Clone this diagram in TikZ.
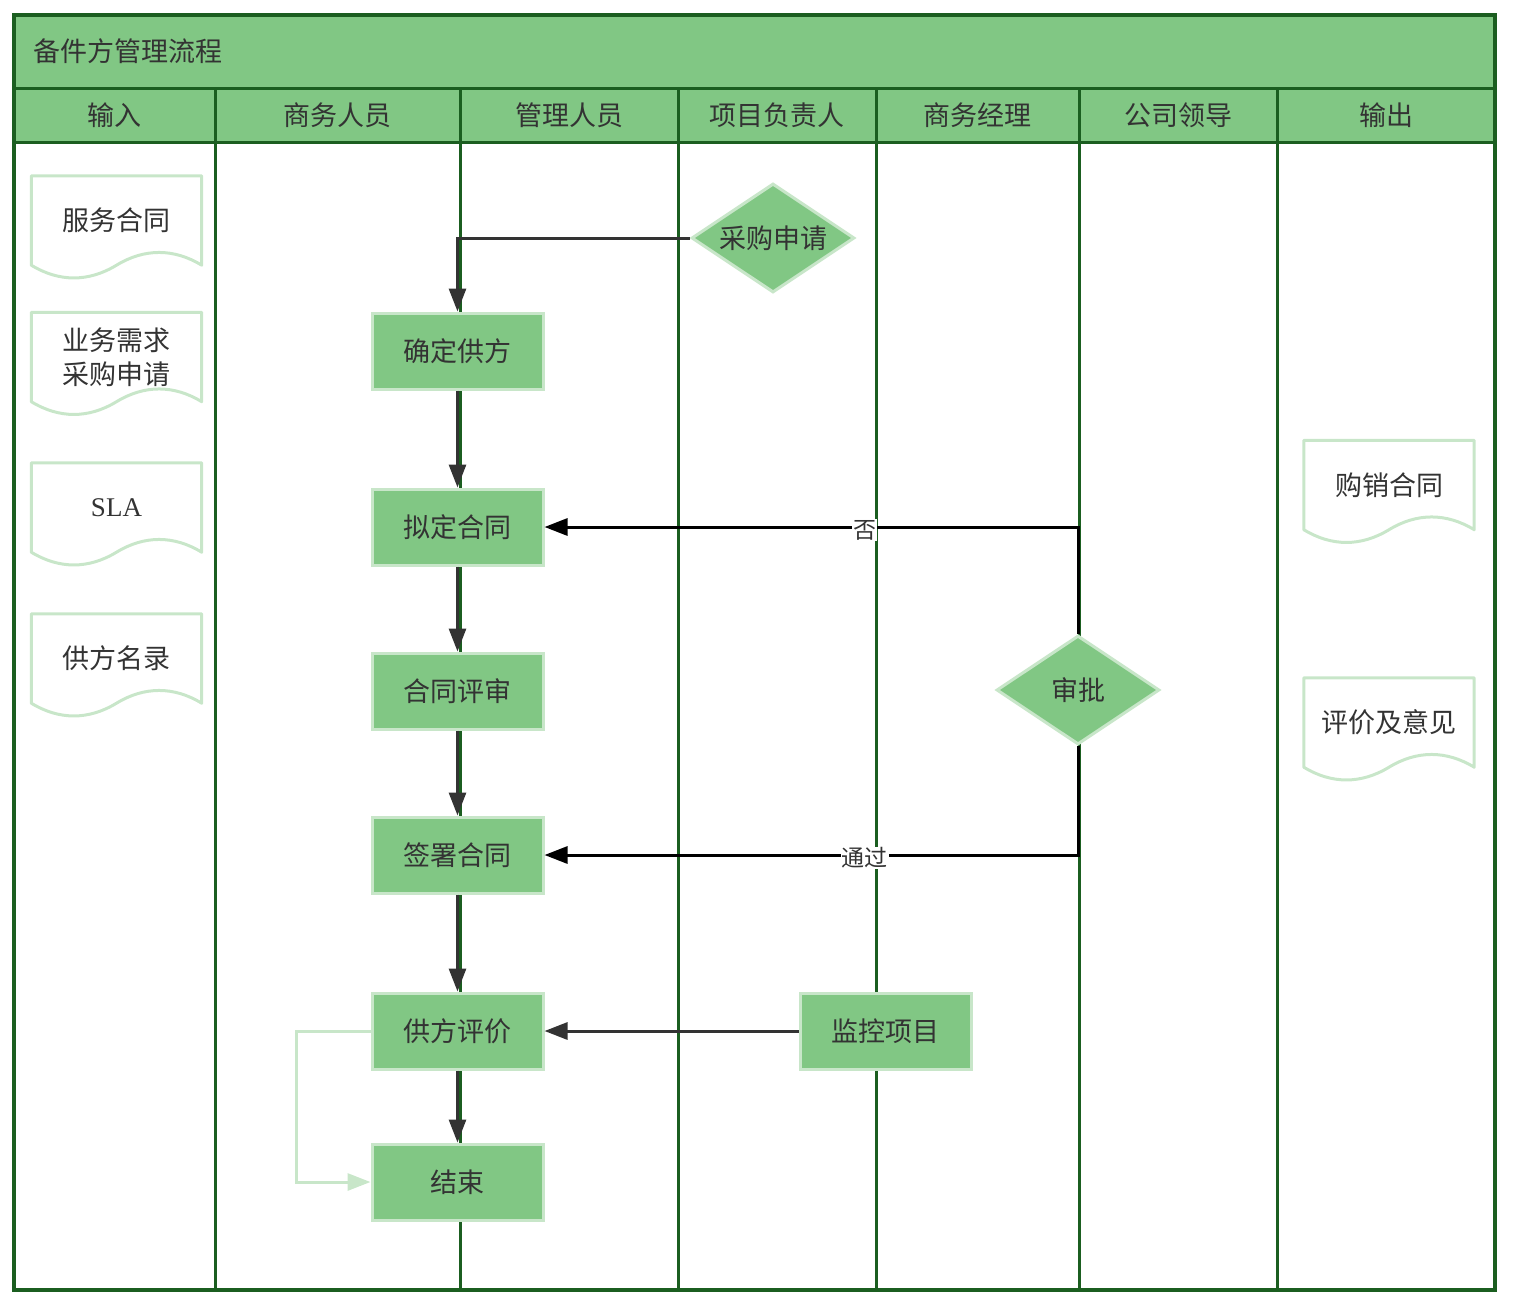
\documentclass[tikz,border=0pt]{standalone}
\usepackage{fontspec}
\setmainfont{Noto Sans CJK SC}
\newfontfamily\slafont{Liberation Serif}
\usepackage{tikz}
\usetikzlibrary{shapes.geometric, arrows.meta}
\definecolor{lanegreen}{HTML}{1B5E20}
\definecolor{headgreen}{HTML}{81C784}
\definecolor{palegreen}{HTML}{C8E6C9}
\definecolor{inkgray}{HTML}{333333}

\begin{document}
\begin{tikzpicture}[x=1pt, y=-1pt,
		lane/.style={draw=lanegreen, line width=3pt},
		head/.style={text=inkgray, font=\fontsize{27}{32}\selectfont},
		proc/.style={rectangle, fill=headgreen, draw=palegreen, line width=3pt, minimum width=171pt, minimum height=76pt, text=inkgray, font=\fontsize{27}{32}\selectfont},
		decide/.style={diamond, aspect=1.5, fill=headgreen, draw=palegreen, line width=3pt, minimum width=163pt, minimum height=109pt, inner sep=-10pt, text=inkgray, font=\fontsize{27}{32}\selectfont},
		docu/.style={rectangle, minimum width=170pt, minimum height=89pt, inner sep=0pt, align=center, text=inkgray, font=\fontsize{27}{34}\selectfont},
		docline/.style={draw=palegreen, line width=3pt, line join=round},
		flow/.style={draw=inkgray, line width=3pt, -{Triangle[length=23pt, width=17pt]}},
		verdict/.style={draw=black, line width=3pt, -{Triangle[length=23pt, width=17pt]}},
		loopback/.style={draw=palegreen, line width=3pt, -{Triangle[length=23pt, width=17pt]}},
		lbl/.style={fill=white, inner sep=1pt, yshift=-3pt, text=inkgray, font=\fontsize{23}{27}\selectfont}]
		\useasboundingbox (0,0) rectangle (1514,1306);
		\fill[headgreen] (14,15) rectangle (1495,142);
		\draw[lane] (14,88) -- (1495,88);
		\draw[lane] (14,142) -- (1495,142);
		\draw[lane] (215,88) -- (215,1290);
		\draw[lane] (460,88) -- (460,1290);
		\draw[lane] (678,88) -- (678,1290);
		\draw[lane] (876,88) -- (876,1290);
		\draw[lane] (1079,88) -- (1079,1290);
		\draw[lane] (1277,88) -- (1277,1290);
		\draw[lane, line width=3.5pt] (14,15) rectangle (1495,1290);
		\node[head, anchor=west] (title) at (30,51) {备件方管理流程};
		\node[head] (hin) at (114.5,115) {输入};
		\node[head] (hsw) at (337.5,115) {商务人员};
		\node[head] (hgl) at (569,115) {管理人员};
		\node[head] (hxm) at (777,115) {项目负责人};
		\node[head] (hjl) at (977.5,115) {商务经理};
		\node[head] (hld) at (1178,115) {公司领导};
		\node[head] (hout) at (1386,115) {输出};
		\node[docu] (fuwu) at (116.5,220.5) {服务合同};
		\node[docu] (xuqiu) at (116.5,357) {业务需求\\采购申请};
		\node[docu] (sla) at (116.5,507.5) {\slafont SLA};
		\node[docu] (gfml) at (116.5,658.5) {供方名录};
		\node[docu] (gouxiao) at (1389,485) {购销合同};
		\node[docu] (pjyj) at (1389,722.5) {评价及意见};
		\foreach \d in {fuwu,xuqiu,sla,gfml,gouxiao,pjyj}
			\draw[docline] (\d.south east) .. controls +(-28,-17) and +(28,-17) .. (\d.south) .. controls +(-28,17) and +(28,17) .. (\d.south west) -- (\d.north west) -- (\d.north east) -- cycle;
		\node[decide] (caigou) at (773,238) {采购申请};
		\node[proc] (queding) at (457.5,351) {确定供方};
		\node[proc] (niding) at (457.5,527) {拟定合同};
		\node[proc] (pingshen) at (457.5,691) {合同评审};
		\node[proc] (qianshu) at (457.5,855) {签署合同};
		\node[proc] (gfpj) at (457.5,1031) {供方评价};
		\node[proc] (jieshu) at (457.5,1182) {结束};
		\node[proc] (jiankong) at (885.5,1031) {监控项目};
		\node[decide] (shenpi) at (1078,690) {审批};
		\draw[flow] (caigou.west) -| (queding.north);
		\draw[flow] (queding.south) -- (niding.north);
		\draw[flow] (niding.south) -- (pingshen.north);
		\draw[flow] (pingshen.south) -- (qianshu.north);
		\draw[flow] (qianshu.south) -- (gfpj.north);
		\draw[flow] (gfpj.south) -- (jieshu.north);
		\draw[verdict] (shenpi.north) |- node[lbl, pos=0.7] {否} (niding.east);
		\draw[verdict] (shenpi.south) |- node[lbl, pos=0.7] {通过} (qianshu.east);
		\draw[flow] (jiankong.west) -- (gfpj.east);
		\draw[loopback] (gfpj.west) -- ++(-74,0) |- (jieshu.west);
	\end{tikzpicture}
\end{document}
